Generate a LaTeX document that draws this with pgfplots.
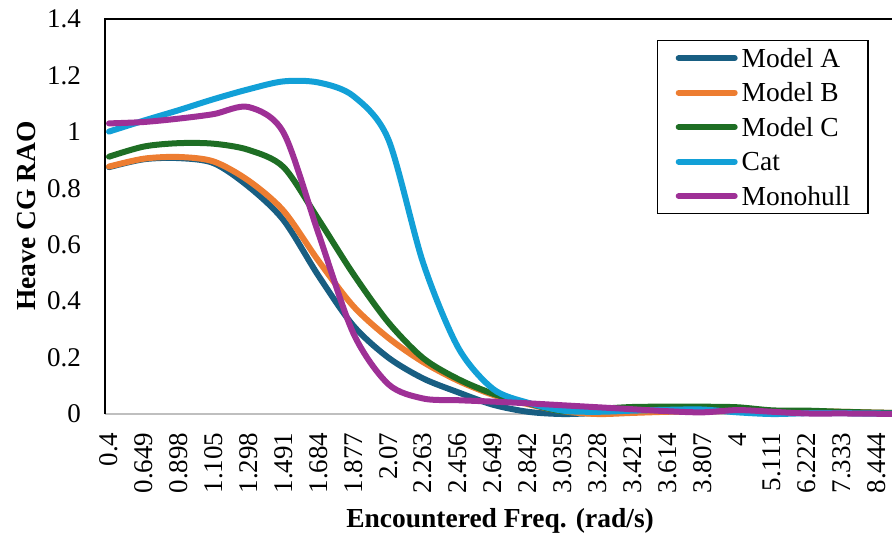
\documentclass[border=0pt]{standalone}
\usepackage{fontspec}
\setmainfont{Liberation Serif}
\usepackage{pgfplots}
\usepackage{pgfplotstable}
\pgfplotsset{compat=1.18}

\definecolor{modelA}{RGB}{24,94,130}
\definecolor{modelB}{RGB}{237,125,49}
\definecolor{modelC}{RGB}{30,110,36}
\definecolor{catc}{RGB}{18,160,215}
\definecolor{monoc}{RGB}{158,48,150}
\definecolor{zeroline}{RGB}{191,191,191}

% Heave RAO at the centre of gravity, one row per encountered frequency
\pgfplotstableread{
i  A     B     C     Cat   Mono
0  0.875 0.877 0.912 1.001 1.030
1  0.903 0.905 0.948 1.040 1.035
2  0.907 0.911 0.960 1.077 1.047
3  0.889 0.895 0.958 1.116 1.063
4  0.806 0.827 0.936 1.151 1.088
5  0.687 0.720 0.875 1.179 0.997
6  0.490 0.543 0.690 1.175 0.640
7  0.313 0.382 0.496 1.127 0.286
8  0.200 0.270 0.325 0.974 0.106
9  0.126 0.184 0.198 0.535 0.055
10 0.077 0.118 0.124 0.236 0.049
11 0.033 0.068 0.072 0.089 0.044
12 0.008 0.035 0.038 0.040 0.038
13 0.000 0.010 0.010 0.012 0.031
14 0.004 0.000 0.018 0.008 0.024
15 0.010 0.004 0.025 0.012 0.017
16 0.014 0.008 0.026 0.015 0.010
17 0.014 0.010 0.026 0.016 0.006
18 0.012 0.010 0.024 0.006 0.014
19 0.008 0.008 0.013 0.000 0.008
20 0.006 0.008 0.012 0.003 0.002
21 0.004 0.008 0.008 0.003 0.002
22 0.002 0.005 0.005 0.002 0.001
23 0.001 0.003 0.003 0.001 0.000
}\raodata

\begin{document}
\begin{tikzpicture}
\useasboundingbox (-105pt,-115.5pt) rectangle (787pt,422.5pt);
\begin{axis}[
  name=ax, at={(0,0)}, anchor=south west,
  scale only axis, width=787pt, height=403.5pt,
  xmin=-0.115, xmax=22.43, ymin=-0.03, ymax=1.4,
  axis line style={draw=none},
  major tick length=0pt,
  xtick={0,1,2,3,4,5,6,7,8,9,10,11,12,13,14,15,16,17,18,19,20,21,22},
  xticklabels={0.4,0.649,0.898,1.105,1.298,1.491,1.684,1.877,2.07,2.263,2.456,2.649,2.842,3.035,3.228,3.421,3.614,3.807,4,5.111,6.222,7.333,8.444},
  ytick={0,0.2,0.4,0.6,0.8,1,1.2,1.4},
  /pgf/number format/assume math mode=true,
  tick label style={font=\fontsize{27}{32}\selectfont, inner sep=0pt},
  xticklabel style={rotate=90, anchor=east},
  xticklabel shift=10pt,
  yticklabel style={anchor=east},
  yticklabel shift=24pt,
  xlabel={Encountered Freq. (rad/s)},
  ylabel={Heave CG RAO},
  label style={font=\fontsize{27.5}{33}\selectfont\bfseries},
  xlabel style={at={(axis description cs:0.502,-0.259)}, anchor=base},
  ylabel style={at={(axis description cs:-0.0995,0.512)}, anchor=center, rotate=0},
  legend cell align=left,
  legend style={at={(0.7014,0.948)}, anchor=north west,
    draw=black, line width=1.4pt,
    font=\fontsize{27.5}{33}\selectfont,
    inner xsep=18pt, inner ysep=6.5pt, row sep=12.5pt, column sep=4pt,
    nodes={inner sep=0pt, text height=20pt, text depth=2pt}},
  legend image code/.code={\draw[#1] (0pt,0pt) -- (56pt,0pt);},
  every axis plot/.append style={line width=6pt, smooth, line cap=round, line join=round, mark=none},
]
\coordinate (zero) at (axis cs:0,0);
\draw[zeroline, line width=1.8pt] (axis cs:-0.115,0) -- (axis cs:22.43,0);
\addplot[modelA] table[x=i, y=A] {\raodata};
\addlegendentry{Model A}
\addplot[modelB] table[x=i, y=B] {\raodata};
\addlegendentry{Model B}
\addplot[modelC] table[x=i, y=C] {\raodata};
\addlegendentry{Model C}
\addplot[catc] table[x=i, y=Cat] {\raodata};
\addlegendentry{Cat}
\addplot[monoc] table[x=i, y=Mono] {\raodata};
\addlegendentry{Monohull}
\end{axis}
\draw[black, line width=1.5pt] (ax.south west |- zero) -- (ax.north west) -- (ax.north east);
\end{tikzpicture}
\end{document}
